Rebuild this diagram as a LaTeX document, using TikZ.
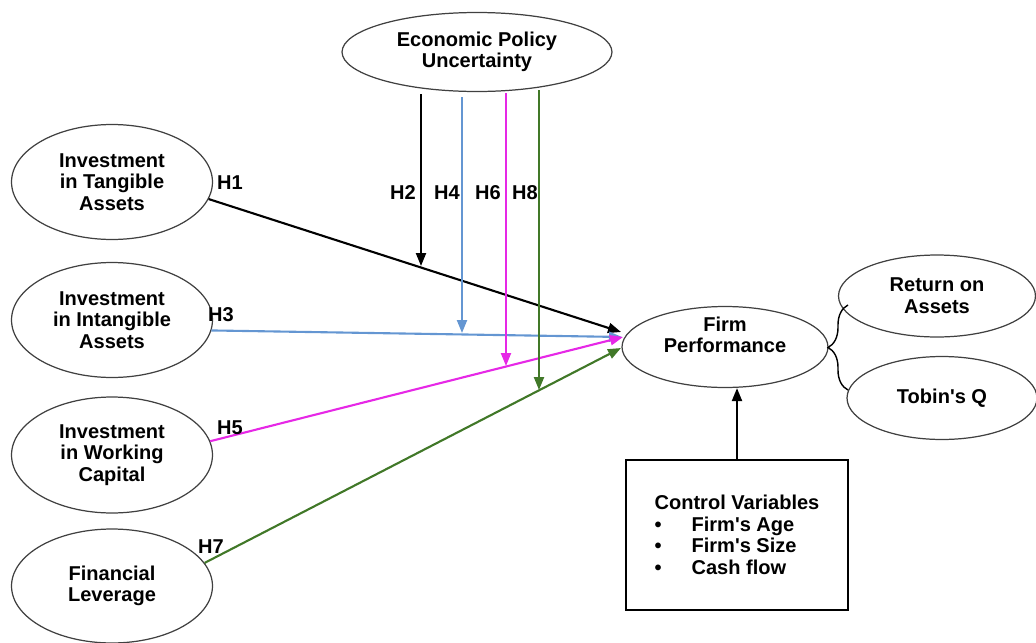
\documentclass[tikz,border=0pt]{standalone}
\usepackage{fontspec}
\setmainfont{Liberation Sans}
\usetikzlibrary{shapes.geometric, arrows.meta, decorations.pathreplacing}

\begin{document}
\begin{tikzpicture}[x=0.02cm, y=-0.02cm,
	every node/.style={font=\bfseries\fontsize{11.4}{12.3}\selectfont},
	var/.style={ellipse, draw=black!75, line width=0.7pt, inner sep=0pt, align=center},
	hyp/.style={line width=1.2pt, -{Triangle[length=0.26cm, width=0.2cm]}}]
	\definecolor{hblue}{RGB}{100,150,210}
	\definecolor{hmag}{RGB}{230,40,230}
	\definecolor{hgreen}{RGB}{65,120,40}
	\useasboundingbox (0,0) rectangle (1036,643);
	% variables
	\node[var, minimum width=5.4cm, minimum height=1.58cm] (epu) at (477,52) {Economic Policy\\Uncertainty};
	\node[var, minimum width=4.02cm, minimum height=2.3cm] (tang) at (112,182) {Investment\\in Tangible\\Assets};
	\node[var, minimum width=4.02cm, minimum height=2.3cm] (intang) at (112,320) {Investment\\in Intangible\\Assets};
	\node[var, minimum width=4.02cm, minimum height=2.32cm] (work) at (112,455) {Investment\\in Working\\Capital};
	\node[var, minimum width=4.02cm, minimum height=2.28cm] (fin) at (112,586) {Financial\\Leverage};
	\node[var, minimum width=4.12cm, minimum height=1.62cm, label={[align=center, yshift=0.24cm]center:{Firm\\Performance}}] (fp) at (725,347) {};
	\node[var, minimum width=3.94cm, minimum height=1.64cm] (roa) at (937,296) {Return on\\Assets};
	\node[var, minimum width=3.8cm, minimum height=1.66cm] (tq) at (942,398) {Tobin\textquotesingle s Q};
	\node[draw, line width=0.9pt, minimum width=4.44cm, minimum height=3cm, align=left] (ctrl) at (737,535) {Control Variables\\
		\makebox[0.74cm][l]{\textbullet}Firm\textquotesingle s Age\\
		\makebox[0.74cm][l]{\textbullet}Firm\textquotesingle s Size\\
		\makebox[0.74cm][l]{\textbullet}Cash flow};
	
	% direct paths
	\coordinate (fp1) at (621,332);
	\coordinate (fp3) at (622,337);
	\coordinate (fp5) at (623,337);
	\coordinate (fp7) at (621,348);
	\draw[hyp, black] (tang.-10) -- (fp1);
	\draw[hyp, hblue] (intang.-6) -- (fp3);
	\draw[hyp, hmag] (work.8) -- (fp5);
	\draw[hyp, hgreen] (fin.14) -- (fp7);
	\node (h1) at (230,183) {H1};
	\node (h3) at (221,315) {H3};
	\node (h5) at (230,428) {H5};
	\node (h7) at (211,547) {H7};
	
	% moderation
	\foreach \x/\ya/\yb/\col/\h/\hx in {421/94/266/black/2/403, 462/97/333/hblue/4/447, 506/93/366/hmag/6/488, 539/90/390/hgreen/8/525} {
		\coordinate (m\h a) at (\x,\ya);
		\coordinate (m\h b) at (\x,\yb);
		\draw[hyp, \col] (m\h a) -- (m\h b);
		\node (h\h) at (\hx,193) {H\h};
	}
	
	% measures and controls
	\coordinate (bb) at (848,390);
	\coordinate (bt) at (848,305);
	\draw[line width=0.8pt, decorate, decoration={brace, amplitude=0.4cm}] (bb) -- (bt);
	\draw[hyp] (ctrl.north) -- (ctrl.north |- fp.south);
\end{tikzpicture}
\end{document}
